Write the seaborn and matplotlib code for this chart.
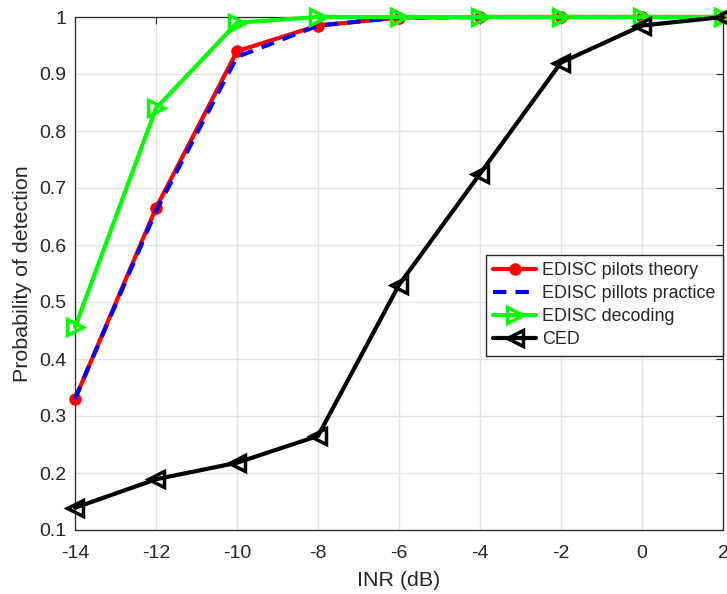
import matplotlib
matplotlib.use("Agg")
import matplotlib.pyplot as plt
import seaborn as sns
import numpy as np

sns.set_theme(style="white")
plt.rcParams["font.family"] = ["Liberation Sans", "DejaVu Sans"]

# INR sweep (dB)
inr_db = [-14, -12, -10, -8, -6, -4, -2, 0, 2]

# Probability of detection for each detector
pd_pilots_theory = [0.33, 0.665, 0.94, 0.985, 0.999, 1.0, 1.0, 1.0, 1.0]
pd_pilots_practice = [0.33, 0.66, 0.93, 0.985, 0.999, 1.0, 1.0, 1.0, 1.0]
pd_decoding = [0.456, 0.84, 0.99, 1.0, 1.0, 1.0, 1.0, 1.0, 1.0]
pd_ced = [0.139, 0.189, 0.218, 0.265, 0.53, 0.725, 0.92, 0.985, 1.0]

labels = ["EDISC pilots theory", "EDISC pillots practice", "EDISC decoding", "CED"]

x_ticks = [-14, -12, -10, -8, -6, -4, -2, 0, 2]
y_ticks = [0.1, 0.2, 0.3, 0.4, 0.5, 0.6, 0.7, 0.8, 0.9, 1.0]
y_tick_labels = ["0.1", "0.2", "0.3", "0.4", "0.5", "0.6", "0.7", "0.8", "0.9", "1"]

fig = plt.figure(figsize=(7.27, 5.94), dpi=100)
ax = fig.add_axes([75 / 727, 64 / 594, 648 / 727, 513 / 594])

lw = 3.0
sns.lineplot(x=inr_db, y=pd_pilots_theory, ax=ax, color="#ff0000", linewidth=lw,
             marker="o", markersize=8, markerfacecolor="#ff0000",
             markeredgecolor="#ff0000", markeredgewidth=1.0,
             label=labels[0], clip_on=False, zorder=3)
sns.lineplot(x=inr_db, y=pd_pilots_practice, ax=ax, color="#0000ff", linewidth=lw,
             dashes=(3.2, 2.2), label=labels[1], clip_on=False, zorder=4)
sns.lineplot(x=inr_db, y=pd_decoding, ax=ax, color="#00ff00", linewidth=lw,
             marker=">", markersize=12, markerfacecolor="none",
             markeredgecolor="#00ff00", markeredgewidth=2.5,
             label=labels[2], clip_on=False, zorder=5)
sns.lineplot(x=inr_db, y=pd_ced, ax=ax, color="#000000", linewidth=lw,
             marker="<", markersize=12, markerfacecolor="none",
             markeredgecolor="#000000", markeredgewidth=2.5,
             label=labels[3], clip_on=False, zorder=6)

ax.set_xlim(-14, 2)
ax.set_ylim(0.1, 1.0)
ax.set_xticks(x_ticks)
ax.set_xticklabels([str(v) for v in x_ticks])
ax.set_yticks(y_ticks)
ax.set_yticklabels(y_tick_labels)

ax.grid(True, color="#e3e3e3", linewidth=1.0)
ax.set_axisbelow(True)
for s in ax.spines.values():
    s.set_color("#262626")
    s.set_linewidth(0.9)
    s.set_visible(True)

ax.tick_params(axis="both", which="both", direction="in", length=5, width=0.8,
               colors="#262626", labelsize=14, top=True, right=True,
               labelcolor="#262626", pad=6)
ax.tick_params(axis="x", pad=11)

ax.set_xlabel("INR (dB)", fontsize=15.4, color="#262626", labelpad=6)
ax.set_ylabel("Probability of detection", fontsize=15.4, color="#262626", labelpad=5)

leg = ax.legend(loc="upper right", bbox_to_anchor=(1.0, 0.536), borderaxespad=0,
                fontsize=12.9, frameon=True, fancybox=False, handlelength=2.4,
                handletextpad=0.35, labelspacing=0.34, borderpad=0.4)
leg.get_frame().set_edgecolor("#262626")
leg.get_frame().set_linewidth(1.0)
leg.get_frame().set_facecolor("white")
leg.get_frame().set_alpha(1.0)
leg.set_zorder(10)

fig.savefig("out.png", dpi=100, facecolor="white")
